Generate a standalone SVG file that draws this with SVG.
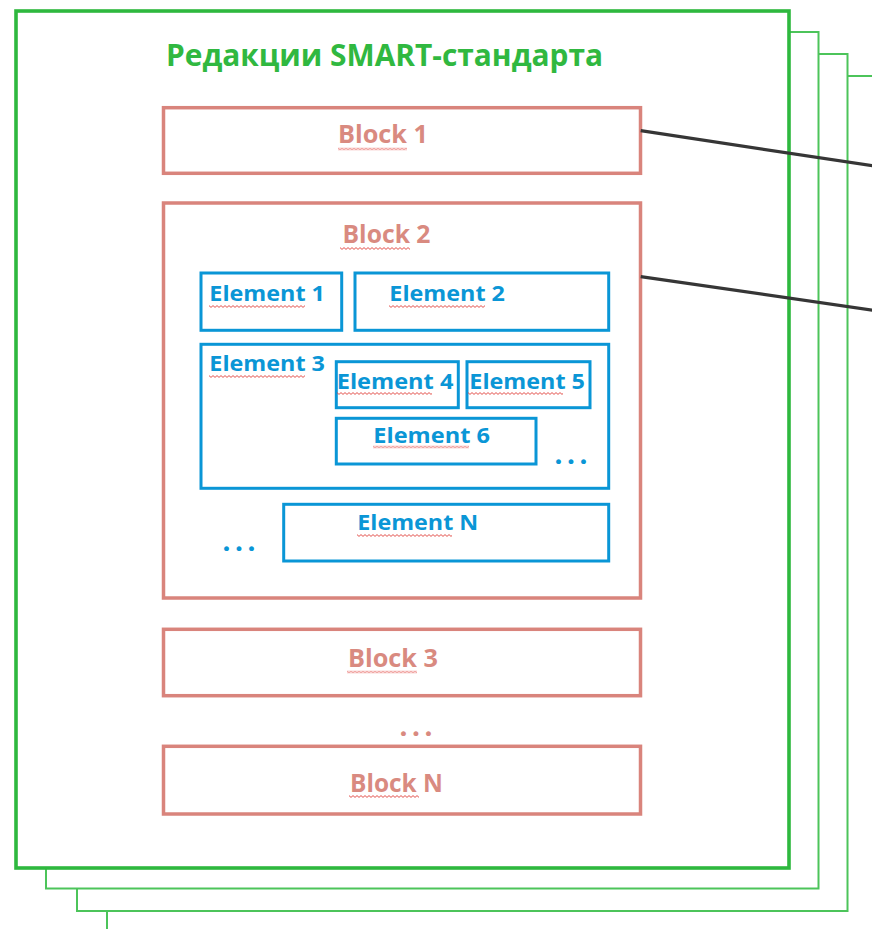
<svg xmlns="http://www.w3.org/2000/svg" width="872" height="929" viewBox="0 0 872 929">
<defs>
<pattern id="wave" patternUnits="userSpaceOnUse" width="4" height="3">
<path d="M0 0.6 L2 2.4 L4 0.6" fill="none" stroke="#e0403a" stroke-width="0.9"/>
</pattern>
</defs>
<style>
.frame{fill:#ffffff;stroke:#4cc45a;stroke-width:2}
.main{fill:#ffffff;stroke:#2eb83e;stroke-width:3.6}
.blk{fill:#ffffff;stroke:#d9847c;stroke-width:3.5}
.el{fill:none;stroke:#0a96d6;stroke-width:3}
.title{font-family:"Open Sans","Liberation Sans",sans-serif;font-weight:700;font-size:30px;fill:#30b840}
.bt{font-family:"Open Sans","Liberation Sans",sans-serif;font-weight:700;font-size:25px;fill:#d98a80}
.et{font-family:"Open Sans","Liberation Sans",sans-serif;font-weight:700;font-size:21px;fill:#0a96d6}
.dots{font-family:"Open Sans","Liberation Sans",sans-serif;font-weight:800;font-size:24px}
.sq{fill:url(#wave)}
.conn{stroke:#363636;stroke-width:3.2;fill:none}
</style>
<rect width="872" height="929" fill="#ffffff"/>
<g id="frames">
<rect class="frame" x="107" y="76" width="775" height="862"/>
<rect class="frame" x="77" y="54" width="770.5" height="857"/>
<rect class="frame" x="46" y="32" width="772.5" height="856.5"/>
<rect class="main" x="16" y="11" width="773" height="857"/>
</g>
<g id="title">
<text class="title" x="166" y="66" textLength="437" lengthAdjust="spacingAndGlyphs">Редакции SMART-стандарта</text>
</g>
<g id="block1">
<rect class="blk" x="163.5" y="107.7" width="477" height="65.6"/>
<text class="bt" x="338" y="142.7" textLength="90" lengthAdjust="spacingAndGlyphs">Block 1</text>
<rect class="sq" x="0" y="0" width="69" height="3" transform="translate(338,147.5)"/>
</g>
<g id="block2">
<rect class="blk" x="163.5" y="203" width="477" height="395"/>
<text class="bt" x="342.5" y="242.7" textLength="88" lengthAdjust="spacingAndGlyphs">Block 2</text>
<rect class="sq" x="0" y="0" width="70" height="3" transform="translate(340,247)"/>
<text class="dots" x="223" y="551" fill="#0a96d6" textLength="32" lengthAdjust="spacing">...</text>
</g>
<g id="element1">
<rect class="el" x="201" y="273" width="140.7" height="57.3"/>
<text class="et" x="209.3" y="300.7" textLength="115.7" lengthAdjust="spacingAndGlyphs">Element 1</text>
<rect class="sq" x="0" y="0" width="96" height="3" transform="translate(209,305)"/>
</g>
<g id="element2">
<rect class="el" x="355" y="273" width="253.7" height="57.3"/>
<text class="et" x="389.3" y="300.7" textLength="115.7" lengthAdjust="spacingAndGlyphs">Element 2</text>
<rect class="sq" x="0" y="0" width="96" height="3" transform="translate(389,305)"/>
</g>
<g id="element3">
<rect class="el" x="201" y="344.3" width="407.7" height="144"/>
<text class="et" x="209.3" y="370.7" textLength="115.7" lengthAdjust="spacingAndGlyphs">Element 3</text>
<rect class="sq" x="0" y="0" width="96" height="3" transform="translate(209,375)"/>
<text class="dots" x="555" y="464" fill="#0a96d6" textLength="32" lengthAdjust="spacing">...</text>
</g>
<g id="element4">
<rect class="el" x="336.3" y="361.7" width="122" height="46"/>
<text class="et" x="336.7" y="389.3" textLength="116.7" lengthAdjust="spacingAndGlyphs">Element 4</text>
<rect class="sq" x="0" y="0" width="95" height="3" transform="translate(337,392)"/>
</g>
<g id="element5">
<rect class="el" x="467" y="361.7" width="123" height="46"/>
<text class="et" x="469.3" y="389.3" textLength="115.7" lengthAdjust="spacingAndGlyphs">Element 5</text>
<rect class="sq" x="0" y="0" width="95" height="3" transform="translate(468,392)"/>
</g>
<g id="element6">
<rect class="el" x="336.3" y="418.3" width="199.7" height="45.7"/>
<text class="et" x="373.3" y="442.7" textLength="116.7" lengthAdjust="spacingAndGlyphs">Element 6</text>
<rect class="sq" x="0" y="0" width="96" height="3" transform="translate(373,445.5)"/>
</g>
<g id="elementN">
<rect class="el" x="283.7" y="504.3" width="325" height="56.7"/>
<text class="et" x="357.3" y="530" textLength="121" lengthAdjust="spacingAndGlyphs">Element N</text>
<rect class="sq" x="0" y="0" width="95" height="3" transform="translate(357,534)"/>
</g>
<g id="block3">
<rect class="blk" x="163.5" y="629.3" width="477" height="66.4"/>
<text class="bt" x="348" y="666.7" textLength="90" lengthAdjust="spacingAndGlyphs">Block 3</text>
<rect class="sq" x="0" y="0" width="70" height="3" transform="translate(347,670.5)"/>
</g>
<text class="dots" x="400" y="736" fill="#d98a80" textLength="32" lengthAdjust="spacing">...</text>
<g id="blockN">
<rect class="blk" x="163.5" y="746.3" width="477" height="67.7"/>
<text class="bt" x="350" y="791.7" textLength="93" lengthAdjust="spacingAndGlyphs">Block N</text>
<rect class="sq" x="0" y="0" width="70" height="3" transform="translate(349,795)"/>
</g>
<g id="connectors">
<line class="conn" x1="640.7" y1="130.7" x2="874" y2="166"/>
<line class="conn" x1="640.7" y1="276.7" x2="874" y2="310.3"/>
</g>
</svg>
